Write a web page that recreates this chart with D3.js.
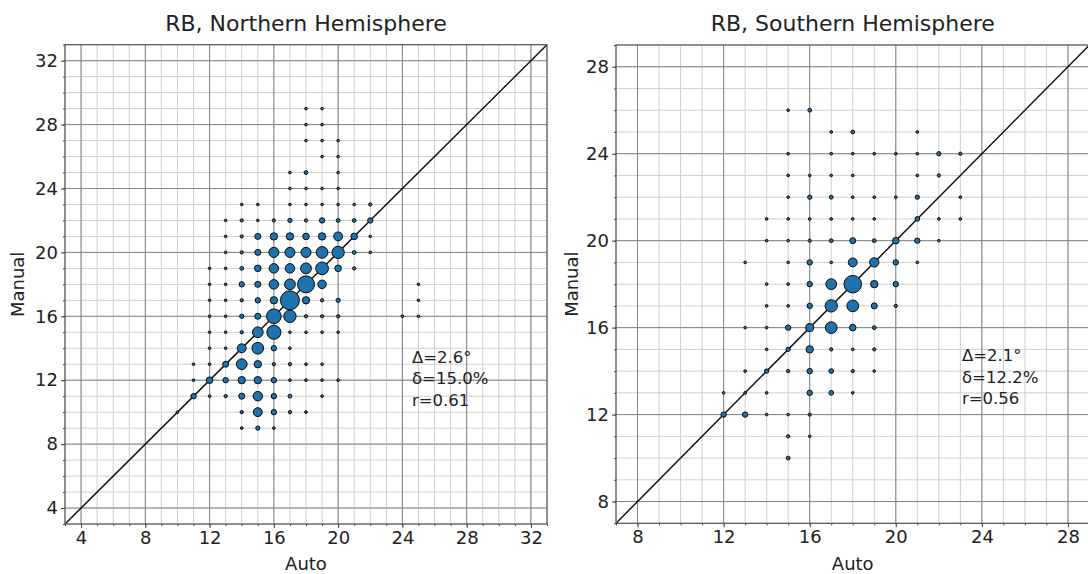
<!DOCTYPE html>
<html>
<head>
  <meta charset="utf-8">
  <style>
    body { margin: 0; background: #fff; }
    text { font-family: "DejaVu Sans", sans-serif; fill: #222; }
    .tick text { font-size: 18px; fill: #222; }
  </style>
</head>
<body>
  <script src="https://cdn.jsdelivr.net/npm/d3@7"></script>
  <script>
    // data: [auto, manual, count]
    const northPoints = [
      [18,29,2],[19,29,2],
      [18,28,2],[19,28,2],
      [18,27,2],[19,27,2],[20,27,2],
      [19,26,2],[20,26,2],
      [17,25,2],[18,25,4],[20,25,2],
      [17,24,2],[18,24,2],[19,24,2],[20,24,2],
      [14,23,2],[15,23,2],[17,23,2],[18,23,2],[19,23,2],[20,23,2],[21,23,2],[22,23,3],
      [13,22,2],[14,22,3],[15,22,2],[16,22,3],[17,22,5],[18,22,3],[19,22,8],[20,22,4],[21,22,4],[22,22,8],
      [13,21,2],[14,21,3],[15,21,10],[16,21,15],[17,21,15],[18,21,12],[19,21,15],[20,21,22],[21,21,12],[22,21,2],
      [13,20,2],[14,20,3],[15,20,10],[16,20,28],[17,20,28],[18,20,28],[19,20,38],[20,20,42],[21,20,4],[22,20,2],
      [12,19,2],[13,19,2],[14,19,4],[15,19,12],[16,19,25],[17,19,25],[18,19,32],[19,19,45],[20,19,12],[21,19,3],
      [12,18,2],[13,18,2],[14,18,8],[15,18,10],[16,18,25],[17,18,32],[18,18,80],[19,18,20],
      [12,17,2],[13,17,2],[14,17,3],[15,17,8],[16,17,15],[17,17,100],[18,17,15],[19,17,3],[20,17,5],
      [12,16,2],[13,16,2],[14,16,5],[15,16,10],[16,16,60],[17,16,42],[18,16,3],[19,16,3],[20,16,3],
      [12,15,2],[13,15,2],[14,15,3],[15,15,32],[16,15,55],[17,15,2],[18,15,2],[19,15,2],[20,15,2],
      [12,14,2],[13,14,2],[14,14,22],[15,14,38],[16,14,8],[17,14,2],
      [11,13,2],[12,13,2],[13,13,10],[14,13,32],[15,13,15],[16,13,3],[17,13,3],[18,13,2],[19,13,2],
      [11,12,2],[12,12,12],[13,12,8],[14,12,15],[15,12,15],[16,12,8],[17,12,2],[18,12,2],[19,12,2],[20,12,2],
      [11,11,8],[12,11,2],[13,11,3],[14,11,10],[15,11,25],[16,11,8],[17,11,4],[19,11,2],
      [10,10,2],[14,10,3],[15,10,22],[16,10,8],[17,10,3],[18,10,2],
      [14,9,2],[15,9,5],[16,9,2],
      [25,18,2],[25,17,2],[25,16,2],[24,16,2]
    ];

    const southPoints = [
      [15,26,2],[16,26,4],
      [17,25,2],[18,25,4],[21,25,2],
      [15,24,2],[17,24,2],[18,24,2],[19,24,2],[20,24,2],[21,24,2],[22,24,5],[23,24,3],
      [15,23,2],[16,23,2],[17,23,2],[18,23,2],[21,23,2],[22,23,3],
      [15,22,2],[16,22,5],[17,22,4],[18,22,2],[19,22,2],[20,22,2],[21,22,5],[23,22,2],
      [14,21,2],[15,21,2],[16,21,2],[17,21,2],[18,21,2],[19,21,2],[21,21,6],[22,21,2],[23,21,2],
      [14,20,2],[15,20,2],[16,20,3],[17,20,4],[18,20,10],[19,20,4],[20,20,12],[21,20,8],[22,20,2],
      [13,19,2],[15,19,2],[16,19,8],[17,19,2],[18,19,22],[19,19,24],[20,19,8],[21,19,2],
      [14,18,2],[15,18,2],[16,18,8],[17,18,32],[18,18,85],[19,18,15],[20,18,8],
      [14,17,2],[15,17,2],[16,17,8],[17,17,42],[18,17,38],[19,17,10],[20,17,3],
      [13,16,2],[14,16,2],[15,16,8],[16,16,18],[17,16,38],[18,16,12],[19,16,4],
      [14,15,2],[15,15,5],[16,15,15],[17,15,3],[18,15,2],[19,15,3],
      [13,14,2],[14,14,5],[15,14,3],[16,14,8],[17,14,6],[18,14,3],[19,14,2],
      [12,13,2],[13,13,2],[14,13,2],[16,13,8],[17,13,6],[18,13,2],
      [12,12,8],[13,12,8],[14,12,2],[15,12,2],[16,12,3],
      [15,11,3],[16,11,2],
      [15,10,4]
    ];

    const northTicks = [4, 8, 12, 16, 20, 24, 28, 32];
    const southTicks = [8, 12, 16, 20, 24, 28];
    const northStats = ["Δ=2.6°", "δ=15.0%", "r=0.61"];
    const southStats = ["Δ=2.1°", "δ=12.2%", "r=0.56"];

    const W = 1088, H = 574;
    const svg = d3.select("body").append("svg")
      .attr("width", W).attr("height", H);

    const rScale = d3.scaleSqrt().domain([0, 100]).range([0, 9.5]);

    function drawPanel(cfg, id) {
      const x = d3.scaleLinear().domain(cfg.domain).range([cfg.left, cfg.right]);
      const y = d3.scaleLinear().domain(cfg.domain).range([cfg.bottom, cfg.top]);
      const minors = d3.range(Math.ceil(cfg.domain[0]), cfg.domain[1] + 0.001, 1);
      const g = svg.append("g");

      g.append("clipPath").attr("id", "clip" + id)
        .append("rect")
        .attr("x", cfg.left).attr("y", cfg.top)
        .attr("width", cfg.right - cfg.left).attr("height", cfg.bottom - cfg.top);

      // minor grid
      g.append("g").selectAll("line").data(minors).enter().append("line")
        .attr("x1", d => x(d)).attr("x2", d => x(d))
        .attr("y1", cfg.top).attr("y2", cfg.bottom)
        .attr("stroke", "#cfcfcf").attr("stroke-width", 1);
      g.append("g").selectAll("line").data(minors).enter().append("line")
        .attr("y1", d => y(d)).attr("y2", d => y(d))
        .attr("x1", cfg.left).attr("x2", cfg.right)
        .attr("stroke", "#cfcfcf").attr("stroke-width", 1);

      // major grid
      g.append("g").selectAll("line").data(cfg.ticks).enter().append("line")
        .attr("x1", d => x(d)).attr("x2", d => x(d))
        .attr("y1", cfg.top).attr("y2", cfg.bottom)
        .attr("stroke", "#858585").attr("stroke-width", 1);
      g.append("g").selectAll("line").data(cfg.ticks).enter().append("line")
        .attr("y1", d => y(d)).attr("y2", d => y(d))
        .attr("x1", cfg.left).attr("x2", cfg.right)
        .attr("stroke", "#858585").attr("stroke-width", 1);

      // 1:1 line
      g.append("line")
        .attr("clip-path", `url(#clip${id})`)
        .attr("x1", x(cfg.domain[0])).attr("y1", y(cfg.domain[0]))
        .attr("x2", x(cfg.domain[1])).attr("y2", y(cfg.domain[1]))
        .attr("stroke", "#111").attr("stroke-width", 1.5);

      // bubbles, big ones first so small stay visible
      const pts = cfg.points.slice().sort((a, b) => b[2] - a[2]);
      g.append("g").attr("clip-path", `url(#clip${id})`)
        .selectAll("circle").data(pts).enter().append("circle")
        .attr("cx", d => x(d[0])).attr("cy", d => y(d[1]))
        .attr("r", d => rScale(d[2]))
        .attr("fill", "#1f72ab")
        .attr("stroke", "#0a0a0a").attr("stroke-width", 1);

      // axes
      const xAxis = d3.axisBottom(x).tickValues(cfg.ticks).tickSize(4).tickPadding(3).tickFormat(d3.format("d"));
      const yAxis = d3.axisLeft(y).tickValues(cfg.ticks).tickSize(4).tickPadding(3).tickFormat(d3.format("d"));
      g.append("g").attr("transform", `translate(0,${cfg.bottom})`).call(xAxis);
      g.append("g").attr("transform", `translate(${cfg.left},0)`).call(yAxis);
      g.append("g").attr("transform", `translate(0,${cfg.bottom})`)
        .call(d3.axisBottom(x).tickValues(minors).tickSize(2).tickFormat(""));
      g.append("g").attr("transform", `translate(${cfg.left},0)`)
        .call(d3.axisLeft(y).tickValues(minors).tickSize(2).tickFormat(""));
      g.selectAll(".domain").remove();
      g.selectAll(".tick line").attr("stroke", "#444");

      // frame
      g.append("rect")
        .attr("x", cfg.left).attr("y", cfg.top)
        .attr("width", cfg.right - cfg.left).attr("height", cfg.bottom - cfg.top)
        .attr("fill", "none").attr("stroke", "#555").attr("stroke-width", 1.2);

      // title and labels
      g.append("text").attr("x", (cfg.left + cfg.right) / 2).attr("y", 31)
        .attr("text-anchor", "middle").attr("font-size", 22).text(cfg.title);
      g.append("text").attr("x", (cfg.left + cfg.right) / 2).attr("y", 570)
        .attr("text-anchor", "middle").attr("font-size", 18).text("Auto");
      g.append("text")
        .attr("transform", `translate(${cfg.manualX},${(cfg.top + cfg.bottom) / 2}) rotate(-90)`)
        .attr("text-anchor", "middle").attr("font-size", 18).text("Manual");

      g.append("g").selectAll("text").data(cfg.stats).enter().append("text")
        .attr("x", cfg.statsX).attr("y", (d, i) => cfg.statsY + i * 21.5)
        .attr("font-size", 16.5).text(d => d);
    }

    drawPanel({
      title: "RB, Northern Hemisphere", domain: [3, 33], ticks: northTicks,
      points: northPoints, stats: northStats,
      left: 65, right: 547, top: 44.7, bottom: 524,
      statsX: 412, statsY: 362.5, manualX: 24
    }, "n");

    drawPanel({
      title: "RB, Southern Hemisphere", domain: [7, 29], ticks: southTicks,
      points: southPoints, stats: southStats,
      left: 616, right: 1089.5, top: 45, bottom: 523.3,
      statsX: 962, statsY: 361, manualX: 578
    }, "s");
  </script>
</body>
</html>
